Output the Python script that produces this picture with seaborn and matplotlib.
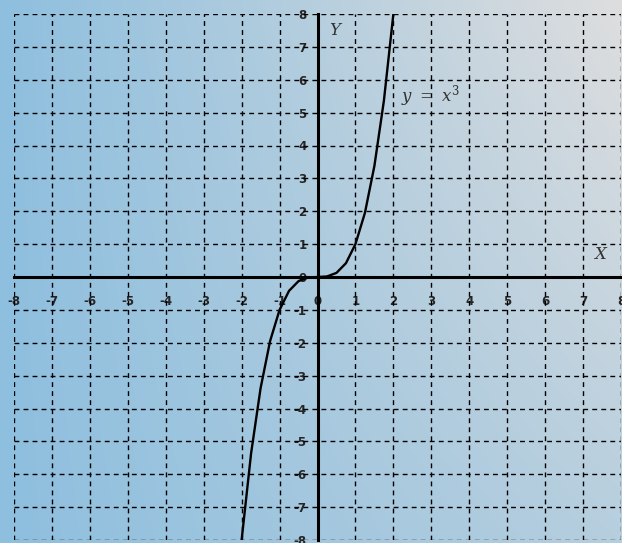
import matplotlib
matplotlib.use('Agg')
import matplotlib.pyplot as plt
import numpy as np
import pandas as pd
import seaborn as sns

# values
x_vals = [-2.0, -1.75, -1.5, -1.25, -1.0, -0.75, -0.5, -0.25, 0.0,
          0.25, 0.5, 0.75, 1.0, 1.25, 1.5, 1.75, 2.0]
y_vals = [-8.0, -5.36, -3.38, -1.95, -1.0, -0.42, -0.125, -0.016, 0.0,
          0.016, 0.125, 0.42, 1.0, 1.95, 3.38, 5.36, 8.0]
ticks = [-8, -7, -6, -5, -4, -3, -2, -1, 0, 1, 2, 3, 4, 5, 6, 7, 8]
tick_labels = [str(t) for t in ticks]
curve_label = r'$y\ =\ x^3$'

sns.set_style('white')
plt.rcParams['font.family'] = ['DejaVu Sans']
plt.rcParams['axes.unicode_minus'] = False
plt.rcParams['mathtext.fontset'] = 'dejavuserif'

fig = plt.figure(figsize=(6.22, 5.43), dpi=100)

# gradient background over the whole figure
bg = fig.add_axes([0, 0, 1, 1])
bg.set_axis_off()
gx, gy = np.meshgrid(np.linspace(0, 1, 300), np.linspace(1, 0, 260))
t = np.clip(gx * (0.5 + 0.5 * gy), 0, 1)[..., None]
blue = np.array([142, 191, 223]) / 255
grey = np.array([222, 222, 222]) / 255
bg.imshow(blue + (grey - blue) * t, aspect='auto', extent=[0, 1, 0, 1])

ax = fig.add_axes([14 / 622, 3 / 543, 607 / 622, 526 / 543])
ax.patch.set_alpha(0)
ax.set_xlim(-8, 8)
ax.set_ylim(-8, 8)

# dashed grid
ax.vlines(ticks, -8, 8, colors='black', linestyles=(0, (3.5, 3)), linewidth=1.0, zorder=1)
ax.hlines(ticks, -8, 8, colors='black', linestyles=(0, (3.5, 3)), linewidth=1.0, zorder=1)

df = pd.DataFrame({'x': x_vals, 'y': y_vals})
sns.lineplot(data=df, x='x', y='y', color='black', linewidth=1.7, ax=ax, zorder=3)

for side in ['top', 'right']:
    ax.spines[side].set_visible(False)
ax.spines['left'].set_position(('data', 0))
ax.spines['bottom'].set_position(('data', 0))
for side in ['left', 'bottom']:
    ax.spines[side].set_linewidth(2.2)
    ax.spines[side].set_color('black')
    ax.spines[side].set_zorder(4)

ax.set_xticks(ticks)
ax.set_yticks(ticks)
ax.set_xticklabels(tick_labels, fontweight='bold', fontsize=8.5)
ax.set_yticklabels(tick_labels, fontweight='bold', fontsize=8.5)
ax.tick_params(axis='x', direction='out', length=3, width=1.5, pad=10)
ax.tick_params(axis='y', direction='out', length=5, width=1.5, pad=3)
for lab in ax.get_xticklabels() + ax.get_yticklabels():
    lab.set_clip_on(False)
ax.set_xlabel('')
ax.set_ylabel('')

ax.text(0.3, 7.5, 'Y', fontsize=12, fontstyle='italic', family='DejaVu Serif',
        color='#333333', ha='left', va='center')
ax.text(2.2, 5.5, curve_label, fontsize=12, color='#333333', ha='left', va='center')
ax.text(7.3, 0.68, 'X', fontsize=12, fontstyle='italic', family='DejaVu Serif',
        color='#333333', ha='left', va='center')

fig.savefig('out.png', dpi=100)
